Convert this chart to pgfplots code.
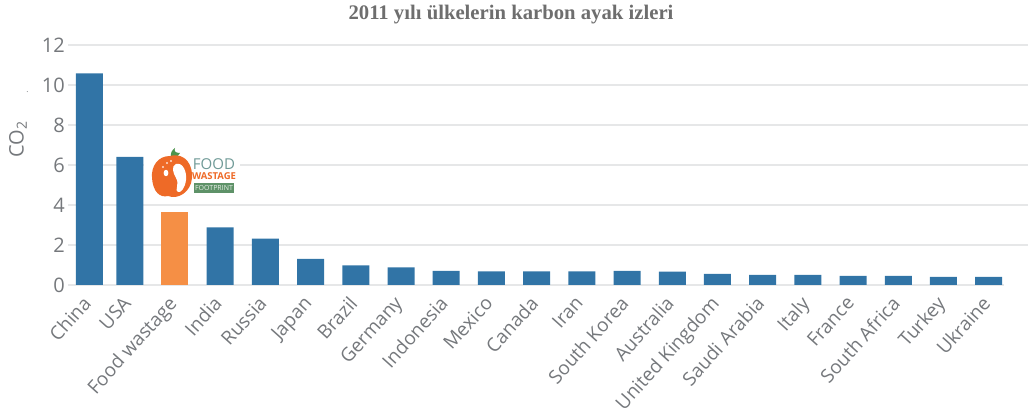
\documentclass[border=0pt]{standalone}
\usepackage{fontspec}
\setmainfont{Open Sans}
\newfontfamily\titlefont{Liberation Serif}
\usepackage{pgfplots}
\pgfplotsset{compat=1.18}
\definecolor{barblue}{HTML}{3174A6}
\definecolor{barorange}{HTML}{F58F45}
\definecolor{labelgray}{HTML}{75787C}
\definecolor{gridgray}{HTML}{E6E7E8}
\definecolor{titlegray}{HTML}{6E6E6E}
\definecolor{logored}{HTML}{EE6A27}
\definecolor{logogreen}{HTML}{5E9268}
\definecolor{logoteal}{HTML}{6F9A97}
\begin{document}
\begin{tikzpicture}[x=1pt,y=1pt]
\useasboundingbox (0,0) rectangle (1028,412);
\begin{axis}[
    at={(68pt,127pt)}, anchor=south west,
    scale only axis, width=960pt, height=240pt,
    ybar, bar width=27pt,
    xmin=-0.367, xmax=20.87,
    ymin=0, ymax=12,
    clip=false,
    axis line style={draw=none},
    major tick length=0pt,
    ytick={0,2,...,12},
    ymajorgrids=true,
    grid style={gridgray,line width=1.4pt},
    xtick={0.105,1,2,...,20},
    xticklabels={China,USA,Food wastage,India,Russia,Japan,Brazil,Germany,Indonesia,Mexico,Canada,Iran,South Korea,Australia,United Kingdom,Saudi Arabia,Italy,France,South Africa,Turkey,Ukraine},
    x tick label style={rotate=48,anchor=north east,inner sep=2pt,yshift=1.5pt,xshift=-10.5pt,text=labelgray,font=\fontsize{19}{18}\selectfont},
    y tick label style={text=labelgray,font=\fontsize{20}{20}\selectfont,inner sep=3pt},
    /pgf/number format/assume math mode=true,
]
\addplot[ybar,bar shift=0pt,draw=none,fill=barblue] coordinates {
  (0.105,10.58) (1,6.4) (3,2.88) (4,2.32) (5,1.3) (6,0.98) (7,0.88) (8,0.7) (9,0.68) (10,0.68)
  (11,0.68) (12,0.71) (13,0.67) (14,0.55) (15,0.5) (16,0.5) (17,0.45) (18,0.45) (19,0.41) (20,0.41)};
\addplot[ybar,bar shift=0pt,draw=none,fill=barorange] coordinates {(2,3.67)};
\end{axis}
% cut the zero line short and the backdrop of the logo
\begin{scope}[shift={(0,412)},y=-1pt]
\fill[white] (1003.5,283) rectangle (1028,288);
\fill[white] (143.5,150) rectangle (240,201);
\fill[green!40!black!70] (171,158) .. controls (170,153) and (172,150) .. (175,148) .. controls (174,151) and (175,153) .. (180,153) .. controls (178,157) and (174,158) .. (171,158) -- cycle;
\fill[logored] (170,156) .. controls (186,152) and (193,166) .. (192,178) .. controls (191,192) and (178,200) .. (168,196) .. controls (160,198) and (153,192) .. (152,178) .. controls (151,166) and (158,156) .. (170,156) -- cycle;
\fill[white] (176,164) .. controls (183,162) and (187,172) .. (186,180) .. controls (185,188) and (181,193) .. (178,192) .. controls (174,191) and (180,184) .. (176,178) .. controls (173,173) and (171,166) .. (176,164) -- cycle;
\fill[white] (166,173) ellipse (2.4 and 3.2);
\fill[white!80!logored] (163,167) circle (1.2) (167,163) circle (1.2) (171,161) circle (1.1);
\node[text=logoteal,font=\fontsize{15}{15}\selectfont,inner sep=0pt] at (214,164) {FOOD};
\node[text=logored,font=\fontsize{9.5}{9.5}\bfseries\selectfont,inner sep=0pt] at (214,176.5) {WASTAGE};
\fill[logogreen] (194,183) rectangle (234,193);
\node[text=white!85!logogreen,font=\fontsize{7}{7}\selectfont,inner sep=0pt] at (214,188) {FOOTPRINT};
% title, axis label and the stray dot of the source
\node[text=titlegray,font=\titlefont\bfseries\fontsize{20.7}{21}\selectfont,inner sep=0pt] at (511,15) {2011 yılı ülkelerin karbon ayak izleri};
\node[text=labelgray,font=\fontsize{20}{20}\selectfont,rotate=90,inner sep=0pt] at (18,139.5) {CO\textsubscript{2}};
\node[text=labelgray,font=\fontsize{8}{8}\selectfont,inner sep=0pt] at (27.5,92) {.};
\end{scope}
\end{tikzpicture}
\end{document}
